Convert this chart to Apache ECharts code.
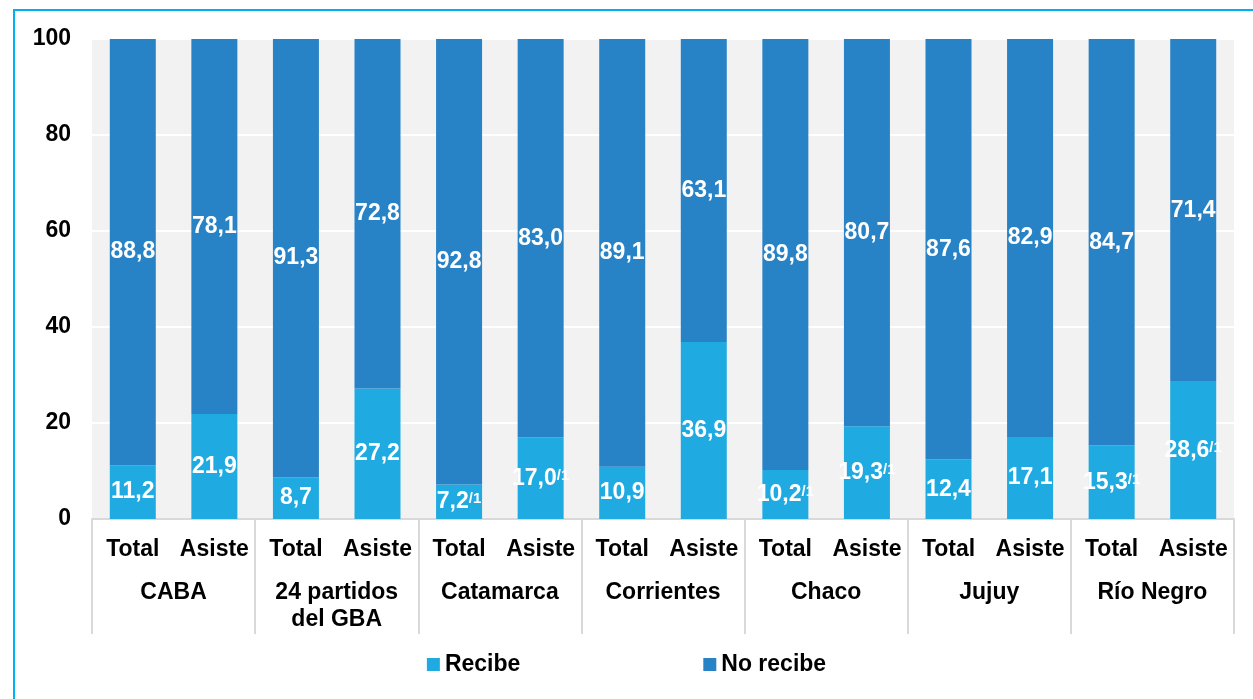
<!DOCTYPE html>
<html><head><meta charset="utf-8">
<script src="https://cdn.jsdelivr.net/npm/echarts@6/dist/echarts.min.js"></script>
<style>
html,body{margin:0;padding:0;background:#fff;overflow:hidden;}
#frame{position:absolute;left:13px;top:9px;width:1260px;height:700px;border:2px solid #00b0f0;box-sizing:border-box;}
#c{position:absolute;left:0;top:0;width:1253px;height:699px;}
</style></head>
<body><div id="frame"></div><div id="c"></div>
<script>
const subCats = ['Total','Asiste','Total','Asiste','Total','Asiste','Total','Asiste','Total','Asiste','Total','Asiste','Total','Asiste'];
const regions = ['CABA','24 partidos\ndel GBA','Catamarca','Corrientes','Chaco','Jujuy','Río Negro'];
const recibe = [11.2,21.9,8.7,27.2,7.2,17.0,10.9,36.9,10.2,19.3,12.4,17.1,15.3,28.6];
const noRecibe = [88.8,78.1,91.3,72.8,92.8,83.0,89.1,63.1,89.8,80.7,87.6,82.9,84.7,71.4];
const recibeNote = [false,false,false,false,true,true,false,false,true,true,false,false,true,true];
const yTicks = [0,20,40,60,80,100];

const fmt = v => v.toFixed(1).replace('.', ',');
const chart = echarts.init(document.getElementById('c'));
const FONT = '"Liberation Sans", Arial, sans-serif';
const labelRich = {
  v:{color:'#fff',fontWeight:'bold',fontSize:23,fontFamily:FONT,lineHeight:24,verticalAlign:'middle'},
  s:{color:'#fff',fontWeight:'bold',fontSize:15,fontFamily:FONT,lineHeight:15,verticalAlign:'top',padding:[2,0,0,0]}
};
chart.setOption({
  animation:false,
  textStyle:{fontFamily:FONT},
  grid:{left:92,right:19,top:39,bottom:180,show:true,backgroundColor:'#f2f2f2',borderWidth:0},
  legend:{
    bottom:18,left:'center',itemWidth:13,itemHeight:13,itemGap:183,icon:'rect',
    textStyle:{fontSize:23,fontWeight:'bold',color:'#000',fontFamily:FONT},
    data:['Recibe','No recibe']
  },
  xAxis:[
    {type:'category',data:subCats,position:'bottom',
     axisLine:{lineStyle:{color:'#d9d9d9',width:2}},axisTick:{show:false},
     axisLabel:{margin:19,fontSize:23,fontWeight:'bold',color:'#000',fontFamily:FONT,interval:0}},
    {type:'category',data:regions,position:'bottom',
     axisLine:{show:false},
     axisTick:{show:true,length:115,lineStyle:{color:'#d9d9d9',width:2}},
     axisLabel:{margin:60,fontSize:23,fontWeight:'bold',color:'#000',fontFamily:FONT,lineHeight:27,verticalAlign:'top',interval:0}}
  ],
  yAxis:{type:'value',min:0,max:100,interval:20,
    axisLine:{show:false},axisTick:{show:false},
    splitLine:{lineStyle:{color:'#ffffff',width:2}},
    axisLabel:{margin:21,fontSize:23,fontWeight:'bold',color:'#000',fontFamily:FONT,
      formatter:v=>yTicks.includes(v)?String(v):''}},
  series:[
    {name:'Recibe',type:'bar',stack:'s',barWidth:46,data:recibe,
     itemStyle:{color:'#1fabe2'},
     label:{show:true,position:'inside',rich:labelRich,
       formatter:p=>'{v|'+fmt(p.value)+'}'+(recibeNote[p.dataIndex]?'{s|/1}':'')}},
    {name:'No recibe',type:'bar',stack:'s',barWidth:46,data:noRecibe,
     itemStyle:{color:'#2782c6'},
     label:{show:true,position:'inside',rich:labelRich,
       formatter:p=>'{v|'+fmt(p.value)+'}'}}
  ]
});
</script></body></html>
